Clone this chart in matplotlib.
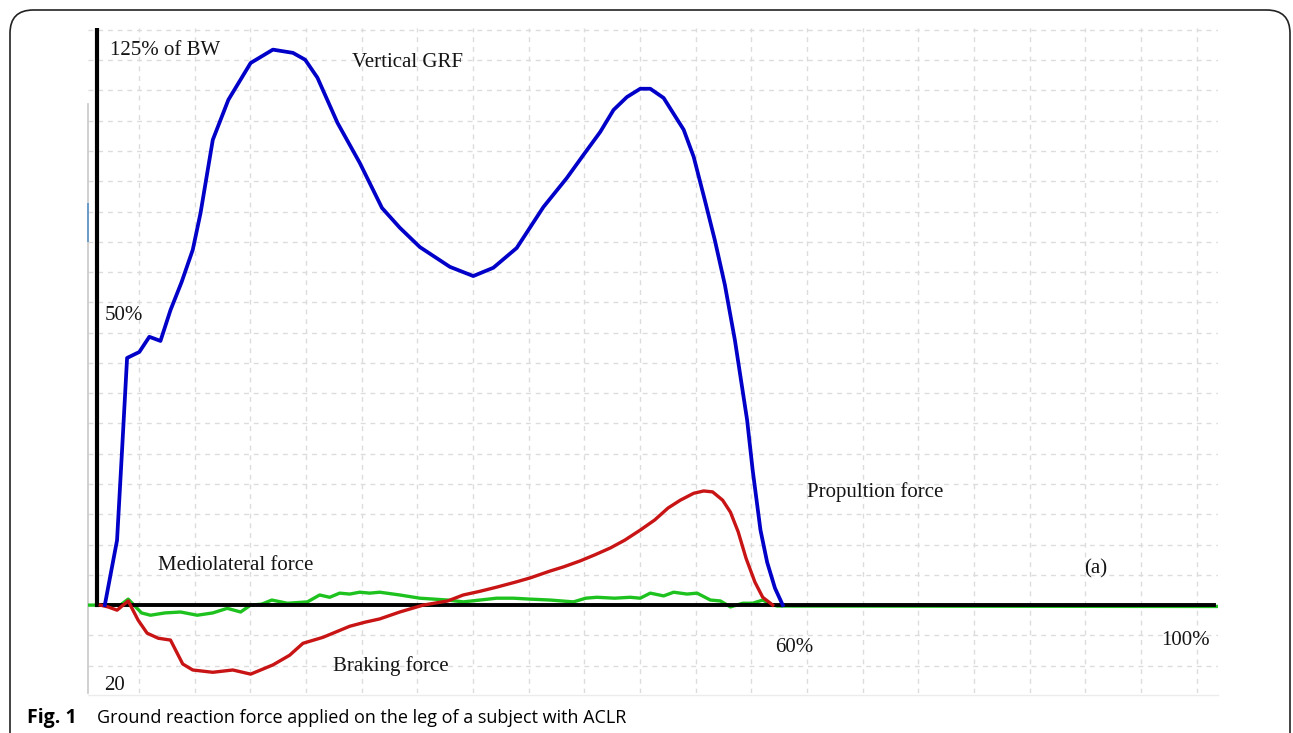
import matplotlib.pyplot as plt
import numpy as np
from matplotlib.patches import FancyBboxPatch

# x: % of gait cycle, y: % of body weight
vert_x = [0.7, 1.8, 2.25, 2.7, 3.8, 4.7, 5.7, 6.6, 7.6, 8.6, 9.3, 10.4, 11.8, 13.8,
          15.8, 17.6, 18.7, 19.8, 21.6, 23.6, 25.6, 27.2, 29.0, 31.7, 33.8, 35.6,
          37.7, 40.1, 42.2, 43.9, 45.2, 46.4, 47.6, 48.8, 49.7, 50.9, 52.7, 53.6,
          54.6, 55.5, 56.4, 57.3, 58.4, 58.9, 59.6, 60.2, 60.9, 61.6]
vert_y = [0, 14.1, 33.7, 53.7, 55.0, 58.3, 57.4, 64.1, 70.2, 77.2, 85.2, 101.1, 109.8,
          117.8, 120.7, 120.0, 118.5, 114.6, 104.8, 96.1, 86.3, 82.0, 77.8, 73.5, 71.5,
          73.3, 77.6, 86.5, 92.8, 98.5, 102.8, 107.6, 110.4, 112.2, 112.2, 110.2, 103.3,
          97.4, 88.0, 79.3, 69.6, 57.6, 40.2, 29.3, 16.3, 9.3, 3.7, 0]

ap_x = [0.3, 1.0, 1.8, 2.8, 3.7, 4.5, 5.5, 6.6, 7.7, 8.6, 10.4, 12.2, 13.8, 15.8,
        17.3, 18.5, 20.3, 22.7, 24.1, 25.4, 27.2, 29.3, 31.5, 32.9, 34.4, 35.9, 37.6,
        38.9, 40.7, 41.9, 43.4, 44.7, 46.1, 47.4, 48.8, 50.1, 51.3, 52.4, 53.6, 54.5,
        55.3, 56.2, 56.9, 57.6, 58.3, 59.1, 59.8, 60.7]
ap_y = [0, -0.4, -1.1, 0.9, -3.3, -6.1, -7.2, -7.6, -12.8, -14.1, -14.6, -14.1, -15.0,
        -13.0, -10.9, -8.3, -7.0, -4.6, -3.7, -3.0, -1.5, 0, 0.9, 2.2, 3.0, 3.9, 5.0,
        5.9, 7.4, 8.3, 9.6, 10.9, 12.4, 14.1, 16.3, 18.5, 21.1, 22.8, 24.3, 24.8, 24.6,
        22.8, 20.2, 15.9, 10.2, 5.0, 1.7, 0]

ml_x = [-0.9, 2.1, 2.8, 3.4, 4.0, 4.8, 6.1, 7.5, 9.0, 10.4, 11.7, 12.9, 13.8, 14.8,
        15.7, 17.1, 18.9, 20.0, 20.9, 21.8, 22.7, 23.6, 24.5, 25.4, 27.2, 29.0, 31.5,
        32.9, 34.4, 35.9, 37.4, 38.9, 40.7, 42.8, 43.9, 44.9, 46.5, 47.9, 48.8, 49.7,
        50.9, 51.8, 53.0, 53.9, 55.1, 56.0, 56.9, 58.0, 58.9, 59.8, 60.5, 61.1, 100.7]
ml_y = [0, 0, 1.3, -0.2, -1.7, -2.2, -1.7, -1.5, -2.2, -1.7, -0.7, -1.5, 0, 0.2, 1.1,
        0.4, 0.7, 2.2, 1.7, 2.6, 2.4, 2.8, 2.6, 2.8, 2.2, 1.5, 1.1, 0.7, 1.1, 1.5, 1.5,
        1.3, 1.1, 0.7, 1.5, 1.7, 1.5, 1.7, 1.5, 2.6, 2.0, 2.8, 2.4, 2.6, 1.1, 0.9, -0.4,
        0.4, 0.4, 1.1, 0.2, -0.2, -0.3]

grid_x = 3.77 + 5 * np.arange(20)
grid_y = 125 / 19 * np.arange(-2, 20)

serif = ['Liberation Serif', 'DejaVu Serif']
sans = ['Open Sans', 'DejaVu Sans']

fig = plt.figure(figsize=(12.93, 7.33), dpi=100)
W, H = 1293, 733

# rounded frame round the figure panel
frame = FancyBboxPatch((10 / W, -0.05), 1280 / W, (723 / H) + 0.05,
                       boxstyle='round,pad=0,rounding_size=0.018',
                       transform=fig.transFigure, fill=False, ec='#222222', lw=1.2,
                       mutation_aspect=W / H)
fig.patches.append(frame)

ax = fig.add_axes([88 / W, 1 - 693 / H, 1130 / W, 665 / H])
ax.set_xlim(-0.81, 100.7)
ax.set_ylim(-19.1, 125.4)
for s in ax.spines.values():
    s.set_visible(False)

ax.set_xticks(grid_x)
ax.set_yticks(grid_y)
ax.tick_params(length=0, labelbottom=False, labelleft=False)
ax.grid(True, color='#dcdcdc', linestyle=(0, (3.5, 3.5)), lw=1.0)

# faint panel edges
ax.plot([0, 0], [0, 0.885], transform=ax.transAxes, color='#c8c8c8', lw=1.2, clip_on=False)
ax.plot([0, 0], [0.68, 0.735], transform=ax.transAxes, color='#6a9cc8', lw=1.4, clip_on=False)
ax.plot([0, 1], [-0.003, -0.003], transform=ax.transAxes, color='#ececec', lw=1.0, clip_on=False)

ax.plot(ml_x, ml_y, color='#1ec21e', lw=2.4, solid_joinstyle='round', zorder=3)
ax.plot([0, 0], [0, 125.4], color='black', lw=3, zorder=4)
ax.plot([0, 100.3], [0, 0], color='black', lw=2.8, zorder=4)
ax.plot(ap_x, ap_y, color='#c81414', lw=2.4, solid_joinstyle='round', zorder=5)
ax.plot(vert_x, vert_y, color='#0000c8', lw=2.7, solid_joinstyle='round', zorder=6)

labels = [
    (1.2, 120.6, '125% of BW'),
    (22.9, 117.9, 'Vertical GRF'),
    (0.7, 63.0, '50%'),
    (5.5, 8.7, 'Mediolateral force'),
    (21.2, -13.2, 'Braking force'),
    (63.8, 24.5, 'Propultion force'),
    (88.7, 7.8, '(a)'),
    (60.9, -9.2, '60%'),
    (95.6, -7.7, '100%'),
    (0.6, -17.4, '20'),
]
for x, y, t in labels:
    ax.text(x, y, t, family=serif, fontsize=15, color='#151515', va='center', ha='left')

fig.text(27 / W, 1 - 718 / H, 'Fig. 1', family=sans,
         fontweight='bold', fontsize=14, va='center', ha='left')
fig.text(97 / W, 1 - 718 / H, 'Ground reaction force applied on the leg of a subject with ACLR',
         family=sans, fontsize=13, va='center', ha='left')

fig.savefig('out.png', dpi=100)
